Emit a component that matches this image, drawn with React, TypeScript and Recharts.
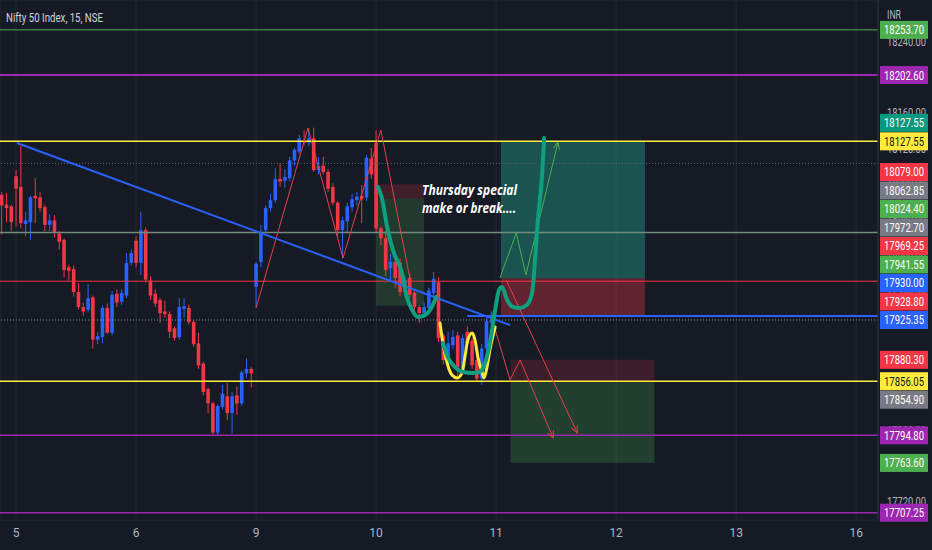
import React from "react";
import {
  ComposedChart,
  Bar,
  Line,
  XAxis,
  YAxis,
  CartesianGrid,
  ReferenceLine,
  ReferenceArea,
} from "recharts";

const W = 932;
const H = 550;
const AXIS_W = 54;
const AXIS_H = 30;
const PLOT_R = W - AXIS_W;
const Y_MIN = 17699;
const Y_MAX = 18287.5;
const X_MIN = -0.35;
const X_MAX = 182.55;
const PX_PER_PT = (H - AXIS_H) / (Y_MAX - Y_MIN);
const TAG_H = 18.5;
const BODY_W = 3.6;

const BG = "#161a25";
const GRID = "#232733";
const UP = "#2962ff";
const DOWN = "#f23645";
const TEXT = "#b2b5be";

// 15 minute candles, [open, high, low, close]
const day4 = [
  [18067, 18070, 18022, 18055],
  [18056, 18069, 18036, 18052],
  [18054, 18056, 18026, 18036],
];
const day5 = [
  [18088, 18095, 18031, 18074],
  [18076, 18123, 18029, 18035],
  [18034, 18048, 18020, 18038],
  [18036, 18066, 18016, 18064],
  [18066, 18086, 18035, 18063],
  [18064, 18070, 18048, 18052],
  [18053, 18056, 18026, 18033],
  [18033, 18045, 18026, 18038],
  [18038, 18044, 18019, 18024],
  [18023, 18026, 18005, 18014],
  [18016, 18018, 17974, 17982],
  [17985, 17988, 17970, 17981],
  [17983, 17987, 17952, 17957],
  [17957, 17967, 17937, 17940],
  [17940, 17945, 17930, 17935],
  [17937, 17966, 17934, 17950],
  [17951, 17953, 17893, 17903],
  [17903, 17912, 17898, 17907],
  [17906, 17942, 17899, 17939],
  [17939, 17944, 17909, 17911],
  [17911, 17958, 17908, 17954],
  [17955, 17960, 17940, 17945],
  [17946, 17960, 17942, 17956],
  [17953, 18001, 17950, 17990],
  [17990, 18005, 17987, 18001],
];
const day6 = [
  [18015, 18020, 17985, 17990],
  [17990, 18048, 17976, 18027],
  [18027, 18030, 17968, 17971],
  [17970, 17975, 17948, 17953],
  [17955, 17960, 17940, 17944],
  [17948, 17950, 17922, 17933],
  [17935, 17947, 17928, 17932],
  [17932, 17935, 17905, 17912],
  [17916, 17918, 17902, 17905],
  [17906, 17950, 17903, 17940],
  [17938, 17950, 17928, 17941],
  [17939, 17943, 17920, 17923],
  [17923, 17925, 17895, 17898],
  [17899, 17911, 17870, 17874],
  [17876, 17878, 17840, 17844],
  [17847, 17849, 17820, 17831],
  [17831, 17833, 17795, 17798],
  [17798, 17830, 17795, 17828],
  [17827, 17852, 17824, 17842],
  [17839, 17854, 17812, 17820],
  [17820, 17844, 17797, 17839],
  [17840, 17850, 17818, 17831],
  [17831, 17868, 17828, 17866],
  [17865, 17882, 17860, 17870],
  [17870, 17872, 17849, 17865],
];
const day9 = [
  [17963, 17991, 17939, 17989],
  [17991, 18033, 17985, 18025],
  [18027, 18055, 18024, 18052],
  [18052, 18068, 18048, 18061],
  [18061, 18097, 18058, 18085],
  [18085, 18103, 18076, 18082],
  [18083, 18096, 18075, 18087],
  [18086, 18110, 18082, 18106],
  [18106, 18120, 18100, 18118],
  [18116, 18135, 18113, 18131],
  [18128, 18140, 18123, 18126],
  [18126, 18143, 18122, 18131],
  [18131, 18143, 18093, 18095],
  [18095, 18110, 18090, 18100],
  [18100, 18110, 18090, 18093],
  [18093, 18096, 18070, 18074],
  [18076, 18080, 18055, 18058],
  [18058, 18060, 18020, 18027],
  [18027, 18042, 17995, 18038],
  [18037, 18058, 18025, 18054],
  [18053, 18068, 18048, 18062],
  [18061, 18070, 18055, 18065],
  [18066, 18078, 18035, 18062],
  [18064, 18112, 18060, 18109],
  [18108, 18120, 18085, 18090],
];
const day10 = [
  [18126, 18140, 18025, 18029],
  [18029, 18031, 18010, 18018],
  [18018, 18026, 17975, 17982],
  [17984, 18000, 17970, 17991],
  [17991, 17998, 17962, 17973],
  [17990, 17995, 17952, 17957],
  [17957, 17975, 17952, 17971],
  [17973, 17978, 17950, 17954],
  [17956, 17958, 17935, 17940],
  [17940, 17942, 17922, 17933],
  [17933, 17945, 17928, 17940],
  [17939, 17962, 17935, 17959],
  [17956, 17980, 17952, 17972],
  [17968, 17974, 17900, 17905],
  [17908, 17910, 17875, 17880],
  [17880, 17912, 17868, 17899],
  [17897, 17914, 17892, 17906],
  [17908, 17912, 17861, 17872],
  [17871, 17909, 17866, 17905],
  [17912, 17918, 17895, 17899],
  [17902, 17905, 17870, 17874],
  [17880, 17885, 17855, 17859],
  [17859, 17898, 17852, 17893],
  [17893, 17928, 17890, 17924],
  [17922, 17935, 17918, 17925.35],
];

const DAY_TICKS = [3, 28, 53, 78, 103, 128, 153, 178];
const DAY_LABELS = ["5", "6", "9", "10", "11", "12", "13", "16"];
const PRICE_TICKS = [
  17720, 17760, 17800, 17840, 17880, 17920, 17960, 18000, 18040, 18080, 18120,
  18160, 18200, 18240,
];

// horizontal levels drawn across the chart
const LEVEL_PRICES = [
  18253.7, 18202.6, 18127.55, 18102.5, 18024.4, 17969.25, 17925.35, 17856.05,
  17794.8, 17707.25,
];
const LEVEL_STYLES = [
  { c: "#4caf50", w: 1 },
  { c: "#9c27b0", w: 2 },
  { c: "#ffeb3b", w: 1.5 },
  { c: "#5d606b", w: 1, d: "1 2" },
  { c: "#6f8c7c", w: 1.5 },
  { c: "#f23645", w: 1 },
  { c: "#7d8aa8", w: 1, d: "1 2" },
  { c: "#ffeb3b", w: 1.5 },
  { c: "#9c27b0", w: 1.5 },
  { c: "#9c27b0", w: 1.5 },
];
const BLUE_RAY = [
  { i: 97, p: 17930 },
  { i: X_MAX, p: 17930 },
];

// price tags on the right scale
const TAG_PRICES = [
  18253.7, 18202.6, 18127.55, 18127.55, 18079.0, 18062.85, 18024.4, 17972.7,
  17969.25, 17941.55, 17930.0, 17928.8, 17925.35, 17880.3, 17856.05, 17854.9,
  17794.8, 17763.6, 17707.25,
];
const TAG_STYLES = [
  { bg: "#4caf50" },
  { bg: "#9c27b0" },
  { bg: "#089981" },
  { bg: "#ffeb3b", fg: "#131722" },
  { bg: "#f23645" },
  { bg: "#787b86" },
  { bg: "#4caf50" },
  { bg: "#787b86" },
  { bg: "#f23645" },
  { bg: "#4caf50" },
  { bg: "#2962ff" },
  { bg: "#f23645" },
  { bg: "#2962ff" },
  { bg: "#f23645" },
  { bg: "#ffeb3b", fg: "#131722" },
  { bg: "#787b86", down: true },
  { bg: "#9c27b0" },
  { bg: "#4caf50" },
  { bg: "#9c27b0" },
];

// position tool boxes [x1, x2, y1, y2]
const BOXES = [
  [78, 88, 18062.85, 18079.0],
  [78, 88, 17941.55, 18062.85],
  [104, 134, 17972.7, 18127.55],
  [104, 134, 17930.0, 17972.7],
  [106, 136, 17854.9, 17880.3],
  [106, 136, 17763.6, 17854.9],
];
const BOX_STYLES = [
  { c: "#f23645", o: 0.18 },
  { c: "#4caf50", o: 0.22 },
  { c: "#22ab94", o: 0.4 },
  { c: "#f23645", o: 0.35 },
  { c: "#f23645", o: 0.17 },
  { c: "#4caf50", o: 0.25 },
];

// hand drawings, bar index / price
const TREND = [
  { i: 3.2, p: 18125.7 },
  { i: 105.9, p: 17919.7 },
];
const ZIGZAG = [
  { i: 53, p: 17939 },
  { i: 63.8, p: 18142.6 },
  { i: 71.1, p: 17995.5 },
  { i: 79, p: 18140.4 },
  { i: 85.1, p: 17970.6 },
];
const GREEN_PATH = [
  { i: 103.8, p: 17973 },
  { i: 107.2, p: 18023.8 },
  { i: 109.2, p: 17976.3 },
  { i: 115.9, p: 18126.8 },
];
const RED_PATH_A = [
  { i: 105.1, p: 17970.6 },
  { i: 119.9, p: 17797.5 },
];
const RED_PATH_B = [
  { i: 102.4, p: 17922 },
  { i: 105.9, p: 17857.5 },
  { i: 108, p: 17880 },
  { i: 114.9, p: 17791.8 },
];
const GREEN_CURVE_1 = [
  { i: 78.4, p: 18075.9 },
  { i: 79.2, p: 18063.4 },
  { i: 80.3, p: 18030.6 },
  { i: 81.5, p: 18004.6 },
  { i: 83.4, p: 17978.5 },
  { i: 84.4, p: 17951.4 },
  { i: 85.5, p: 17936.7 },
  { i: 86.7, p: 17928.8 },
  { i: 88.2, p: 17931.0 },
  { i: 89.6, p: 17940.1 },
  { i: 90.5, p: 17951.4 },
];
const GREEN_CURVE_2 = [
  { i: 91.9, p: 17899.3 },
  { i: 93.0, p: 17882.4 },
  { i: 94.4, p: 17872.2 },
  { i: 96.1, p: 17866.5 },
  { i: 98.2, p: 17865.4 },
  { i: 99.6, p: 17866.5 },
  { i: 100.7, p: 17876.7 },
  { i: 101.7, p: 17899.3 },
  { i: 102.8, p: 17936.7 },
  { i: 103.6, p: 17959.3 },
  { i: 104.2, p: 17962.7 },
  { i: 105.3, p: 17948.0 },
  { i: 106.5, p: 17940.0 },
  { i: 108.0, p: 17938.9 },
  { i: 109.4, p: 17942.3 },
  { i: 110.5, p: 17955.9 },
  { i: 111.1, p: 17993.2 },
  { i: 111.7, p: 18038.5 },
  { i: 112.6, p: 18091.7 },
  { i: 113.0, p: 18131.3 },
];
const YELLOW_CURVE = [
  { i: 91.3, p: 17922.0 },
  { i: 91.9, p: 17899.3 },
  { i: 92.8, p: 17876.7 },
  { i: 93.8, p: 17863.1 },
  { i: 94.9, p: 17859.7 },
  { i: 95.9, p: 17865.4 },
  { i: 96.5, p: 17883.5 },
  { i: 97.1, p: 17902.7 },
  { i: 98.0, p: 17910.6 },
  { i: 98.6, p: 17902.7 },
  { i: 99.2, p: 17883.5 },
  { i: 100.1, p: 17865.4 },
  { i: 100.5, p: 17859.7 },
  { i: 101.1, p: 17872.2 },
  { i: 101.7, p: 17891.4 },
  { i: 102.8, p: 17917.4 },
];

const candles = [day4, day5, day6, day9, day10].flat().map(([open, high, low, close], i) => ({
  i,
  open,
  high,
  low,
  close,
  range: [low, high],
}));

// tags that overlap get stacked like TradingView does
const tagShifts = (() => {
  const base = TAG_PRICES.map((p) => (Y_MAX - p) * PX_PER_PT);
  const ys = base.slice();
  for (let k = 1; k < ys.length; k++) {
    if (TAG_STYLES[k].down) ys[k] = Math.max(ys[k], ys[k - 1] + TAG_H);
  }
  for (let k = ys.length - 2; k >= 0; k--) {
    if (!TAG_STYLES[k].down) ys[k] = Math.min(ys[k], ys[k + 1] - TAG_H);
  }
  return ys.map((y, k) => y - base[k]);
})();

const Candle = (props: any) => {
  const { x, y, width, height, payload } = props;
  if (!payload || height == null) return null;
  const { open, close, high, low } = payload;
  const color = close >= open ? UP : DOWN;
  const k = height / Math.max(high - low, 0.0001);
  const top = y + (high - Math.max(open, close)) * k;
  const bh = Math.max(Math.abs(open - close) * k, 1.2);
  const cx = x + width / 2;
  return (
    <g>
      <line x1={cx} x2={cx} y1={y} y2={y + height} stroke={color} strokeWidth={1} />
      <rect x={cx - BODY_W / 2} y={top} width={BODY_W} height={bh} fill={color} />
    </g>
  );
};

const PriceTag = (props: any) => {
  const { viewBox, text, bg, fg, shift } = props;
  if (!viewBox) return null;
  const y = viewBox.y + shift;
  return (
    <g>
      <rect x={PLOT_R + 2} y={y - 9} width={48} height={18} fill={bg} />
      <text
        x={PLOT_R + 26}
        y={y + 4.5}
        textAnchor="middle"
        fill={fg}
        fontSize={12.5}
        fontFamily="Roboto, sans-serif"
        textLength={40}
        lengthAdjust="spacingAndGlyphs"
      >
        {text}
      </text>
    </g>
  );
};

const TickText = (props: any) => {
  const { viewBox, text } = props;
  if (!viewBox) return null;
  return (
    <text
      x={PLOT_R + 9}
      y={viewBox.y + 4.5}
      fill={TEXT}
      fontSize={12}
      fontFamily="Roboto, sans-serif"
      textLength={39}
      lengthAdjust="spacingAndGlyphs"
    >
      {text}
    </text>
  );
};

const drawing = (data: any[], color: string, width: number, key: string, marker?: string) => (
  <Line
    key={key}
    data={data}
    dataKey="p"
    type="linear"
    stroke={color}
    strokeWidth={width}
    dot={false}
    activeDot={false}
    isAnimationActive={false}
    markerEnd={marker ? `url(#${marker})` : undefined}
  />
);

const curve = (data: any[], color: string, width: number, key: string) => (
  <Line
    key={key}
    data={data}
    dataKey="p"
    type="monotone"
    stroke={color}
    strokeWidth={width}
    strokeLinecap="round"
    dot={false}
    activeDot={false}
    isAnimationActive={false}
  />
);

export default function App() {
  return (
    <div style={{ position: "absolute", left: 0, top: 0, width: W, height: H, background: BG }}>
      <svg width={0} height={0} style={{ position: "absolute" }}>
        <defs>
          <marker id="arrRed" viewBox="0 0 10 10" refX="9" refY="5" markerWidth="8" markerHeight="8" orient="auto">
            <path d="M0,1 L9,5 L0,9" fill="none" stroke="#f23645" strokeWidth="1.2" />
          </marker>
          <marker id="arrGreen" viewBox="0 0 10 10" refX="9" refY="5" markerWidth="8" markerHeight="8" orient="auto">
            <path d="M0,1 L9,5 L0,9" fill="none" stroke="#4caf50" strokeWidth="1.2" />
          </marker>
        </defs>
      </svg>
      <ComposedChart
        width={W}
        height={H}
        data={candles}
        margin={{ top: 0, right: 0, bottom: 0, left: 0 }}
      >
        <CartesianGrid stroke={GRID} />
        <XAxis
          dataKey="i"
          type="number"
          domain={[X_MIN, X_MAX]}
          allowDataOverflow
          ticks={DAY_TICKS}
          tickFormatter={(v: number) => DAY_LABELS[DAY_TICKS.indexOf(v)] ?? ""}
          height={AXIS_H}
          tickLine={false}
          tickSize={6}
          tickMargin={2}
          axisLine={false}
          tick={{ fill: TEXT, fontSize: 12, fontFamily: "Roboto, sans-serif" }}
        />
        <YAxis
          orientation="right"
          type="number"
          domain={[Y_MIN, Y_MAX]}
          allowDataOverflow
          ticks={PRICE_TICKS}
          width={AXIS_W}
          tickLine={false}
          axisLine={{ stroke: "#2a2e39" }}
          tick={false}
        />
        {BOXES.map(([x1, x2, y1, y2], k) => (
          <ReferenceArea
            key={`box${k}`}
            x1={x1}
            x2={x2}
            y1={y1}
            y2={y2}
            fill={BOX_STYLES[k].c}
            fillOpacity={BOX_STYLES[k].o}
            stroke="none"
          />
        ))}
        {LEVEL_PRICES.map((p, k) => (
          <ReferenceLine
            key={`lvl${k}`}
            y={p}
            stroke={LEVEL_STYLES[k].c}
            strokeWidth={LEVEL_STYLES[k].w}
            strokeDasharray={LEVEL_STYLES[k].d}
          />
        ))}
        {drawing(BLUE_RAY, UP, 2, "ray")}
        {drawing(ZIGZAG, "#e0414f", 1, "zig")}
        <Bar dataKey="range" barSize={3.6} shape={(p: any) => <Candle {...p} />} isAnimationActive={false} />
        {drawing(TREND, UP, 2, "trend")}
        {drawing(GREEN_PATH, "#4caf50", 1, "gp", "arrGreen")}
        {drawing(RED_PATH_A, "#e0414f", 1, "rpa", "arrRed")}
        {drawing(RED_PATH_B, "#e0414f", 1, "rpb", "arrRed")}
        {curve(GREEN_CURVE_1, "#0e9f7e", 4, "g1")}
        {curve(YELLOW_CURVE, "#ffeb3b", 3, "y1")}
        {curve(GREEN_CURVE_2, "#0e9f7e", 4, "g2")}
        {PRICE_TICKS.map((t) => (
          <ReferenceLine
            key={`tick${t}`}
            y={t}
            stroke="none"
            label={<TickText text={t.toFixed(2)} />}
          />
        ))}
        {TAG_PRICES.map((p, k) => (
          <ReferenceLine
            key={`tag${k}`}
            y={p}
            stroke="none"
            label={
              <PriceTag
                text={p.toFixed(2)}
                bg={TAG_STYLES[k].bg}
                fg={TAG_STYLES[k].fg ?? "#ffffff"}
                shift={tagShifts[k]}
              />
            }
          />
        ))}
      </ComposedChart>
      <svg
        width={W}
        height={H}
        style={{ position: "absolute", left: 0, top: 0, pointerEvents: "none" }}
      >
        <text x={6} y={22} fill="#d1d4dc" fontSize={13} fontFamily="Roboto, sans-serif" textLength={97} lengthAdjust="spacingAndGlyphs">
          Nifty 50 Index, 15, NSE
        </text>
        <text x={887} y={19} fill={TEXT} fontSize={12} fontFamily="Roboto, sans-serif" textLength={14} lengthAdjust="spacingAndGlyphs">
          INR
        </text>
        <text x={422} y={195} fill="#ffffff" fontSize={14} fontWeight="bold" fontStyle="italic" fontFamily="'Open Sans', sans-serif" textLength={95} lengthAdjust="spacingAndGlyphs">
          Thursday special
        </text>
        <text x={422} y={213} fill="#ffffff" fontSize={14} fontWeight="bold" fontStyle="italic" fontFamily="'Open Sans', sans-serif" textLength={94} lengthAdjust="spacingAndGlyphs">
          make or break....
        </text>
      </svg>
    </div>
  );
}
